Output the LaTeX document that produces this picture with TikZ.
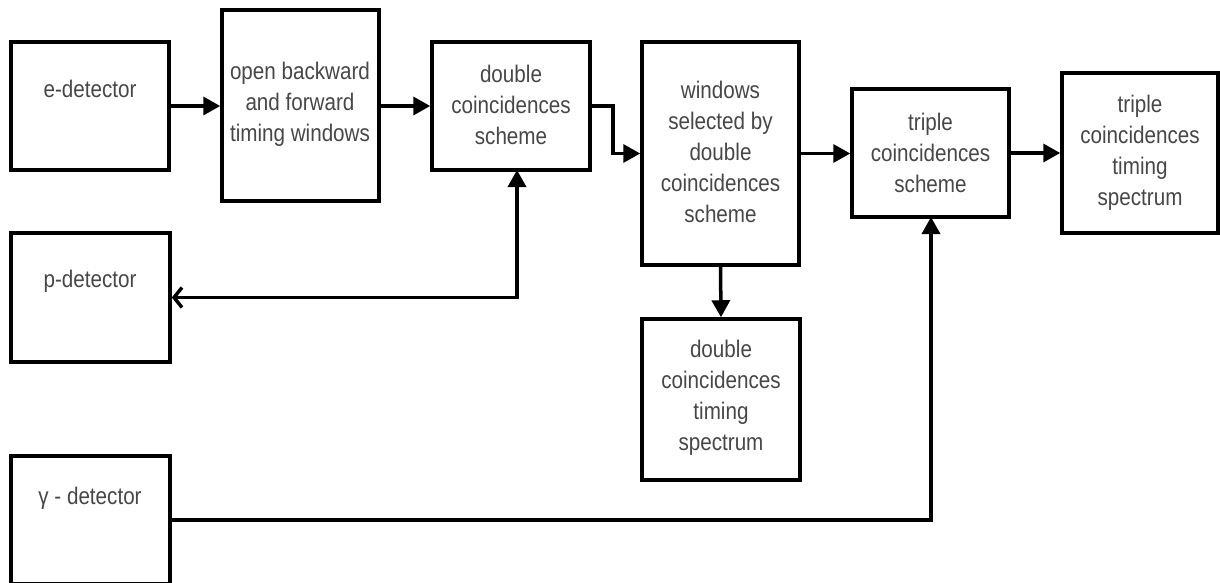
\documentclass[tikz,border=0pt]{standalone}
\usepackage{fontspec}
\setmainfont{Liberation Sans}[FakeStretch=0.86]
\usetikzlibrary{arrows.meta}
\begin{document}
\begin{tikzpicture}[x=1pt,y=-1pt,
  box/.style={draw=black, line width=3.5pt, inner sep=0pt},
  txt/.style={text=black!72, font=\fontsize{24}{31}\selectfont, align=center, inner sep=0pt},
  conn/.style={line width=3.5pt, -{Triangle[length=17pt,width=18pt]}},
  back/.style={line width=3.5pt, {Straight Barb[length=8pt,width=20pt,line width=3.5pt]}-{Triangle[length=17pt,width=18pt]}}
]
\useasboundingbox (0,0) rectangle (1220,583);
\clip (0,0) rectangle (1220,583);
\fill[white] (0,0) rectangle (1220,583);

% boxes
\node[box, minimum width=158pt, minimum height=128pt] (e) at (90,106) {};
\node[box, minimum width=157pt, minimum height=191pt] (open) at (300.5,105.5) {};
\node[box, minimum width=158pt, minimum height=128pt] (dcs) at (511,106) {};
\node[box, minimum width=157pt, minimum height=223pt] (win) at (720.5,153.5) {};
\node[box, minimum width=157pt, minimum height=128pt] (tcs) at (930.5,153) {};
\node[box, minimum width=156pt, minimum height=160pt] (tts) at (1140,153) {};
\node[box, minimum width=159pt, minimum height=129pt] (p) at (90.5,297.5) {};
\node[box, minimum width=158pt, minimum height=161pt] (dts) at (721,399.5) {};
\node[box, minimum width=159pt, minimum height=128pt] (g) at (90.5,520) {};

% texts
\node[txt] (te) at (90,89) {e-detector};
\node[txt] (topen) at (300,104) {open backward\\and forward\\timing windows};
\node[txt] (tdcs) at (511,104.5) {double\\coincidences\\scheme};
\node[txt] (twin) at (720.5,152) {windows\\selected by\\double\\coincidences\\scheme};
\node[txt] (ttcs) at (930.5,153) {triple\\coincidences\\scheme};
\node[txt] (ttts) at (1140,153) {triple\\coincidences\\timing\\spectrum};
\node[txt] (tp) at (90,281) {p-detector};
\node[txt] (tdts) at (721,398) {double\\coincidences\\timing\\spectrum};
\node[txt] (tg) at (90,498) {γ - detector};

% connectors
\coordinate (k1) at (613,106);
\coordinate (pd) at (517,170);
\coordinate (gd) at (931,217);
\draw[conn] (e.east) -- (e.east -| open.west);
\draw[conn] (open.east |- e.east) -- (dcs.west);
\draw[conn] (dcs.east) -- (k1) |- (win.west);
\draw[conn] (win.east) -- (win.east -| tcs.west);
\draw[conn] (tcs.east) -- (tts.west);
\draw[conn] (win.south) -- (dts.north);
\draw[back] (p.east) -| (pd);
\draw[conn] (g.east) -| (gd);
\end{tikzpicture}
\end{document}
